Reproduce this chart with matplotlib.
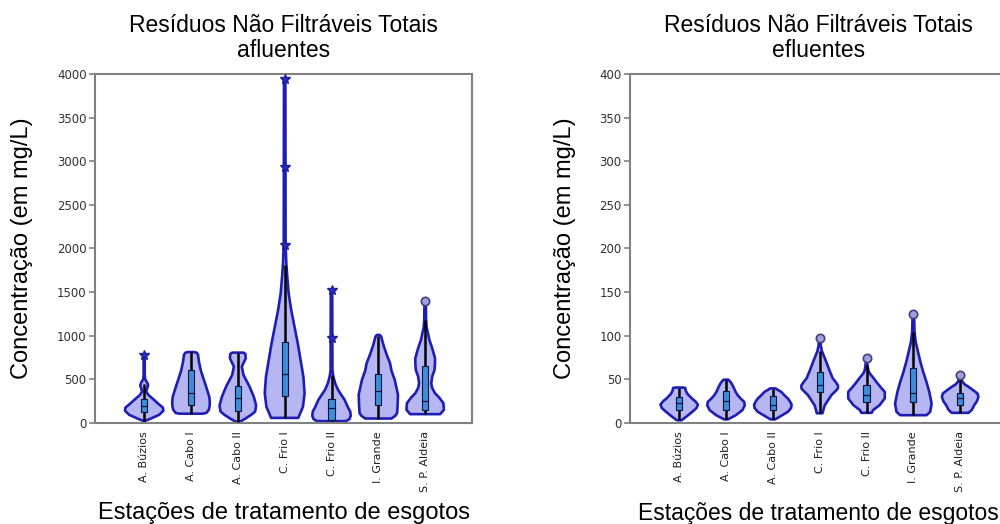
import matplotlib
matplotlib.use("Agg")
import matplotlib.pyplot as plt

estacoes = ["A. Búzios", "A. Cabo I", "A. Cabo II", "C. Frio I",
            "C. Frio II", "I. Grande", "S. P. Aldeia"]

# --- afluentes: violin outlines (value, half width in category units) ---
afl_perfil_v = [
    [25, 42, 92, 140, 175, 220, 264, 320, 359, 390, 430, 465, 500, 560, 780],
    [105, 115, 150, 200, 250, 300, 350, 420, 500, 600, 700, 780, 805, 812],
    [15, 45, 90, 130, 200, 300, 416, 550, 645, 741, 790, 805],
    [57, 184, 337, 528, 720, 911, 1102, 1294, 1485, 1677, 1830, 2040, 3940],
    [20, 40, 80, 130, 180, 264, 378, 450, 530, 600, 1524],
    [50, 80, 111, 187, 321, 420, 493, 600, 684, 780, 874, 950, 990, 1008],
    [100, 149, 225, 290, 340, 400, 455, 530, 607, 680, 741, 800, 874, 950,
     1028, 1100, 1180, 1400],
]
afl_perfil_w = [
    [0.03, 0.11, 0.32, 0.41, 0.40, 0.30, 0.21, 0.09, 0.045, 0.06, 0.085, 0.06, 0.02, 0.012, 0.012],
    [0.25, 0.33, 0.38, 0.40, 0.40, 0.39, 0.36, 0.32, 0.27, 0.21, 0.17, 0.15, 0.12, 0.06],
    [0.05, 0.15, 0.28, 0.37, 0.39, 0.34, 0.25, 0.12, 0.085, 0.17, 0.16, 0.12],
    [0.29, 0.39, 0.425, 0.40, 0.34, 0.28, 0.21, 0.14, 0.085, 0.055, 0.035, 0.02, 0.015],
    [0.30, 0.38, 0.41, 0.40, 0.35, 0.28, 0.14, 0.08, 0.04, 0.02, 0.015],
    [0.28, 0.36, 0.40, 0.41, 0.42, 0.38, 0.35, 0.28, 0.25, 0.18, 0.12, 0.08, 0.06, 0.03],
    [0.32, 0.40, 0.39, 0.30, 0.21, 0.15, 0.13, 0.15, 0.20, 0.21, 0.21, 0.18, 0.14,
     0.09, 0.06, 0.03, 0.02, 0.015],
]
afl_q1 = [122, 206, 134, 306, 38, 203, 145]
afl_mediana = [195, 348, 287, 559, 172, 367, 253]
afl_q3 = [275, 607, 421, 930, 272, 555, 651]
afl_min = [25, 105, 15, 57, 20, 50, 100]
afl_max = [450, 810, 800, 1810, 550, 1000, 1180]
afl_extremos = [[780], [], [], [2036, 2932, 3947], [978, 1524], [], [1402]]
afl_marcador = ["*", "o", "o", "*", "*", "o", "o"]

# --- efluentes ---
efl_perfil_v = [
    [3, 7, 12.6, 17, 21, 25, 28, 33, 37, 40, 40.5],
    [4, 8.8, 14.6, 20, 24, 28, 31.7, 36, 41, 46, 49.5],
    [4, 6.9, 12.6, 17, 21, 25, 28, 32, 35.5, 38, 39.5],
    [11, 15, 20.3, 26, 31.8, 36, 39.4, 43, 47, 51, 60, 70, 78, 82, 88, 97],
    [11.5, 14.6, 20.3, 28, 35.5, 41, 47, 52, 56.6, 60, 66, 74],
    [8.8, 12.6, 22.2, 35.6, 47, 58.6, 70, 81.5, 93, 104.5, 125],
    [11.5, 15, 20.3, 25, 30, 33.7, 37, 41.3, 44, 47, 50, 55],
]
efl_perfil_w = [
    [0.05, 0.15, 0.28, 0.37, 0.40, 0.34, 0.27, 0.18, 0.14, 0.13, 0.08],
    [0.04, 0.21, 0.35, 0.40, 0.39, 0.31, 0.25, 0.20, 0.16, 0.11, 0.05],
    [0.05, 0.14, 0.32, 0.39, 0.40, 0.36, 0.32, 0.24, 0.18, 0.10, 0.06],
    [0.06, 0.08, 0.11, 0.18, 0.25, 0.33, 0.39, 0.39, 0.34, 0.28, 0.21, 0.14, 0.08, 0.05, 0.025, 0.015],
    [0.11, 0.14, 0.28, 0.39, 0.39, 0.30, 0.21, 0.14, 0.07, 0.04, 0.02, 0.015],
    [0.28, 0.36, 0.39, 0.34, 0.28, 0.21, 0.15, 0.10, 0.05, 0.025, 0.015],
    [0.18, 0.25, 0.30, 0.36, 0.39, 0.37, 0.29, 0.18, 0.10, 0.05, 0.03, 0.015],
]
efl_q1 = [14.6, 15, 15, 35.6, 24, 24, 21]
efl_mediana = [23, 25, 21, 43.3, 32, 34, 28]
efl_q3 = [29.5, 36.7, 31, 58.6, 43, 63, 34.8]
efl_min = [3, 4, 4, 11, 11.5, 8.8, 11.5]
efl_max = [40, 49, 39, 82, 66, 104, 50]
efl_extremos = [[], [], [], [97], [74], [125], [55]]
efl_marcador = ["o"] * 7

COR_FUNDO = "#b6b6f2"
COR_BORDA = "#1e1eb4"
COR_CAIXA = "#3b8fd6"
COR_EIXO = "#808080"


def desenha_violinos(ax, perfil_v, perfil_w, q1, med, q3, vmin, vmax, extremos, marcador):
    for i in range(len(estacoes)):
        v = perfil_v[i]
        w = perfil_w[i]
        xs = [i + h for h in w] + [i - h for h in w[::-1]]
        ys = list(v) + list(v[::-1])
        ax.fill(xs, ys, facecolor=COR_FUNDO, edgecolor=COR_BORDA, lw=1.9,
                joinstyle="round", zorder=2)
        ax.plot([i, i], [vmin[i], vmax[i]], color="black", lw=1.8,
                solid_capstyle="butt", zorder=3)
        ax.bar(i, q3[i] - q1[i], bottom=q1[i], width=0.13, color=COR_CAIXA,
               edgecolor="#101040", lw=0.8, zorder=4)
        ax.plot([i - 0.065, i + 0.065], [med[i], med[i]], color="#101040",
                lw=0.9, zorder=5)
        if extremos[i]:
            if marcador[i] == "*":
                ax.plot([i] * len(extremos[i]), extremos[i], "*", ms=7,
                        color="#2a2ad0", mec="#202090", zorder=6)
            else:
                ax.plot([i] * len(extremos[i]), extremos[i], "o", ms=6,
                        mfc="#a0a0dc", mec="#404080", mew=1.2, zorder=6)


def estilo(ax, titulo, ymax, passo, tam_xlabel=17):
    ax.set_xlim(-1.05, 7.0)
    ax.set_ylim(0, ymax)
    ax.set_yticks(range(0, ymax + 1, passo))
    ax.set_xticks(range(len(estacoes)))
    ax.set_xticklabels(estacoes, rotation=90, fontsize=8, color="#202020")
    ax.tick_params(axis="x", length=0, pad=6)
    ax.tick_params(axis="y", length=4, width=1.2, color=COR_EIXO,
                   labelsize=8.5, labelcolor="#303030", pad=2)
    for s in ax.spines.values():
        s.set_color(COR_EIXO)
        s.set_linewidth(1.5)
    ax.set_title(titulo, fontsize=16.5, family="Liberation Sans", pad=12,
                 linespacing=1.15)
    ax.set_ylabel("Concentração (em mg/L)", fontsize=17, family="Liberation Sans",
                  labelpad=17)
    ax.set_xlabel("Estações de tratamento de esgotos", fontsize=tam_xlabel,
                  family="Liberation Sans", labelpad=7)


fig = plt.figure(figsize=(10, 5.24), dpi=100)
ax1 = fig.add_axes([0.095, 0.193, 0.377, 0.666])
ax2 = fig.add_axes([0.630, 0.193, 0.377, 0.666])

desenha_violinos(ax1, afl_perfil_v, afl_perfil_w, afl_q1, afl_mediana, afl_q3,
                 afl_min, afl_max, afl_extremos, afl_marcador)
estilo(ax1, "Resíduos Não Filtráveis Totais\nafluentes", 4000, 500)

desenha_violinos(ax2, efl_perfil_v, efl_perfil_w, efl_q1, efl_mediana, efl_q3,
                 efl_min, efl_max, efl_extremos, efl_marcador)
estilo(ax2, "Resíduos Não Filtráveis Totais\nefluentes", 400, 50, tam_xlabel=16.5)

fig.savefig("out.png", dpi=100)
